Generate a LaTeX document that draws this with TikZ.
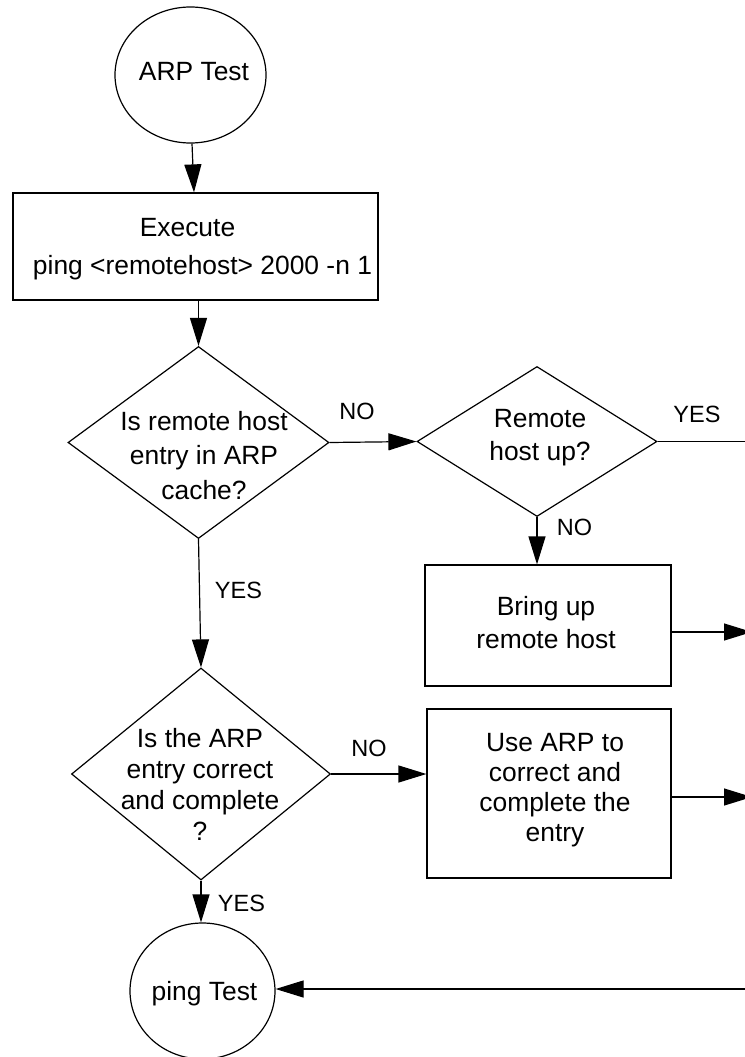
\documentclass[tikz,border=0pt]{standalone}
\usepackage{fontspec}
\setmainfont{Liberation Sans}
\usetikzlibrary{shapes.geometric,arrows.meta}
\begin{document}
\begin{tikzpicture}[x=1pt,y=1pt,
  line width=1.2pt,
  shp/.style={draw, inner sep=0pt, line width=1.2pt},
  term/.style={shp, ellipse},
  proc/.style={shp, rectangle},
  dec/.style={shp, diamond},
  txt/.style={inner sep=0pt, align=center, font=\fontsize{26.4}{33}\selectfont},
  lbl/.style={inner sep=0pt, font=\fontsize{23.5}{28}\selectfont},
  arr/.style={-{Triangle[length=28pt,width=17pt]}}
]
\useasboundingbox (0,0) rectangle (744,-1057);

% shapes
\node[term, minimum width=151pt, minimum height=136pt] (arp) at (190.5,-75) {};
\node[proc, minimum width=365pt, minimum height=107pt] (exec) at (195.5,-246.5) {};
\node[dec, minimum width=261pt, minimum height=192pt] (d1) at (198.5,-442.5) {};
\node[dec, minimum width=240pt, minimum height=150pt] (d2) at (537,-441.5) {};
\node[proc, minimum width=246pt, minimum height=121pt] (bring) at (548,-625.5) {};
\node[dec, minimum width=259pt, minimum height=212pt] (d3) at (201,-774) {};
\node[proc, minimum width=244pt, minimum height=169pt] (usearp) at (549,-793.5) {};
\node[term, minimum width=145pt, minimum height=136pt] (ping) at (202.5,-991) {};

% texts
\node[txt] (arpt) at ([shift={(3.5,3.5)}]arp.center) {ARP Test};
\node[txt, font=\fontsize{26.4}{38}\selectfont] (exect) at ([shift={(0,-2.8)}]exec.center)
  {\hspace*{-16pt}Execute\\\hspace*{14pt}ping <remotehost> 2000 -n 1};
\node[txt, font=\fontsize{26.4}{34.5}\selectfont] (d1t) at ([shift={(5.5,-13)}]d1.center)
  {Is remote host\\entry in ARP\\cache?};
\node[txt, font=\fontsize{26.4}{32.3}\selectfont] (d2t) at ([shift={(3,3.8)}]d2.center)
  {Remote\\host up?};
\node[txt, font=\fontsize{26.4}{32.3}\selectfont] (bringt) at ([shift={(-2,2.8)}]bring.center)
  {Bring up\\remote host};
\node[txt, font=\fontsize{26.4}{31}\selectfont] (d3t) at ([shift={(-1,-10)}]d3.center)
  {Is the ARP\\entry correct\\and complete\\?};
\node[txt, font=\fontsize{26.4}{30}\selectfont] (usearpt) at ([shift={(6,3)}]usearp.center)
  {Use ARP to\\correct and\\complete the\\entry};
\node[txt] (pingt) at ([shift={(2,-2.3)}]ping.center) {ping Test};

% free ends at the right edge
\coordinate (e1) at (760,-441.5);
\coordinate (e2) at (752,-632);
\coordinate (e3) at (752,-797);
\coordinate (e4) at (760,-989);

% connectors
\draw[arr] ([xshift=1.5pt]arp.south) -- ([xshift=-1.5pt]exec.north);
\draw[arr] (exec.south -| d1.north) -- (d1.north);
\draw[arr] (d1.east) -- (d2.west);
\draw (d2.east) -- (e1);
\draw[arr] (d2.south) -- (d2.south |- bring.north);
\draw[arr] (e2 -| bring.east) -- (e2);
\draw[arr] (d1.south) -- (d3.north);
\draw[arr] (d3.east) -- (d3.east -| usearp.west);
\draw[arr] (e3 -| usearp.east) -- (e3);
\draw[arr] (d3.south) -- (d3.south |- ping.north);
\draw[arr] (e4) -- (e4 -| ping.east);

% connector labels
\node[lbl] (no1) at (357,-411.7) {NO};
\node[lbl] (yes1) at (697,-414.7) {YES};
\node[lbl] (no2) at (574.5,-527.7) {NO};
\node[lbl] (yes2) at (238.5,-590) {YES};
\node[lbl] (no3) at (369,-748) {NO};
\node[lbl] (yes3) at (241.5,-903.3) {YES};
\end{tikzpicture}
\end{document}
